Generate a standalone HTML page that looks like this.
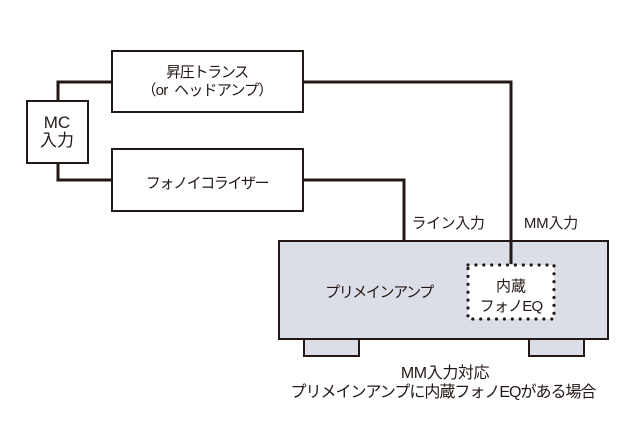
<!DOCTYPE html>
<html>
<head>
<meta charset="utf-8">
<style>
html,body{margin:0;padding:0;background:#fff;}
svg{display:block;}
text{font-family:"Liberation Sans","Noto Sans CJK JP",sans-serif;fill:#231815;}
</style>
</head>
<body>
<svg width="640" height="427" viewBox="0 0 640 427" xmlns="http://www.w3.org/2000/svg">
  <!-- connectors -->
  <g fill="none" stroke="#231815" stroke-width="3">
    <path d="M58 101 V82 H112"/>
    <path d="M58 162 V180 H112"/>
    <path d="M303 82 H511 V264"/>
    <path d="M303 180 H404 V240"/>
  </g>
  <!-- boxes -->
  <g fill="#fff" stroke="#231815" stroke-width="2">
    <rect x="112" y="51" width="191" height="61"/>
    <rect x="112" y="149" width="191" height="62"/>
    <rect x="27" y="101" width="61" height="62"/>
  </g>
  <!-- feet + main box -->
  <g fill="#dcdee7" stroke="#231815" stroke-width="2">
    <rect x="304" y="336" width="55" height="20"/>
    <rect x="529" y="336" width="55" height="20"/>
    <rect x="279" y="241" width="329" height="98"/>
  </g>
  <!-- MM line over box -->
  <path d="M511 240 V264" stroke="#231815" stroke-width="3" fill="none"/>
  <!-- dotted box -->
  <rect x="468" y="265" width="86" height="54" fill="#fff"/>
  <path d="M468 265 H554 V319 H468 Z" fill="none" stroke="#231815" stroke-width="3.2" stroke-linecap="round" stroke-dasharray="0 7.9"/>

  <!-- labels -->
  <g font-size="15" text-anchor="middle">
    <text x="207" y="77" letter-spacing="-1.3">昇圧トランス</text>
    <text x="207" y="95" letter-spacing="-0.8">（or&#160;&#160;ヘッドアンプ）</text>
    <text x="57" y="128" font-size="17">MC</text>
    <text x="57" y="146" font-size="17">入力</text>
    <text x="207" y="188" letter-spacing="-1.4">フォノイコライザー</text>
    <text x="448" y="228" letter-spacing="-0.4">ライン入力</text>
    <text x="551" y="228" letter-spacing="-0.2">MM入力</text>
    <text x="379" y="297" letter-spacing="-1.4">プリメインアンプ</text>
    <text x="511" y="291">内蔵</text>
    <text x="511" y="311" letter-spacing="-0.8">フォノEQ</text>
    <text x="445" y="378" font-size="16" letter-spacing="-0.4">MM入力対応</text>
    <text x="443" y="397" font-size="16" letter-spacing="-1">プリメインアンプに内蔵フォノEQがある場合</text>
  </g>
</svg>
</body>
</html>
